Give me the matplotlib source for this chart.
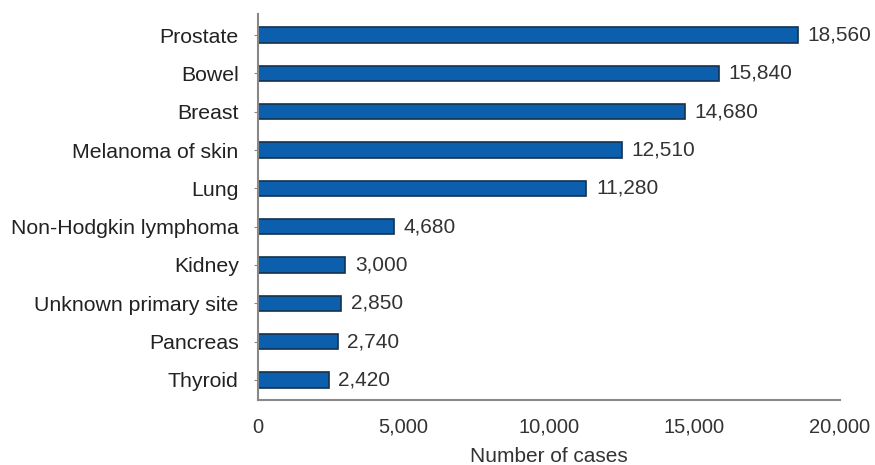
import matplotlib.pyplot as plt

sites = ['Prostate', 'Bowel', 'Breast', 'Melanoma of skin', 'Lung',
         'Non-Hodgkin lymphoma', 'Kidney', 'Unknown primary site',
         'Pancreas', 'Thyroid']
cases = [18560, 15840, 14680, 12510, 11280, 4680, 3000, 2850, 2740, 2420]
xticks = [0, 5000, 10000, 15000, 20000]

plt.rcParams['font.family'] = ['Liberation Sans', 'DejaVu Sans']

fig = plt.figure(figsize=(8.75, 4.65), dpi=100)
ax = fig.add_axes([0.295, 0.14, 0.665, 0.83])

pos = list(range(len(sites)))
ax.barh(pos, cases, height=0.4, color='#0b5fad', edgecolor='#15314f', linewidth=1.2)

# value labels at the end of each bar
for p, v in zip(pos, cases):
    ax.text(v + 330, p, f'{v:,}', va='center', ha='left', fontsize=15, color='#333333')

ax.set_yticks(pos)
ax.set_yticklabels(sites, fontsize=15.3, color='#222222')
ax.set_ylim(9.52, -0.55)
ax.set_xlim(0, 20000)
ax.set_xticks(xticks)
ax.set_xticklabels([f'{t:,}' for t in xticks], fontsize=14.5, color='#333333')
ax.tick_params(axis='x', length=0, pad=13)
ax.tick_params(axis='y', length=3, color='#888888', pad=11)
ax.set_xlabel('Number of cases', fontsize=15, color='#333333', labelpad=7)

for s in ['top', 'right']:
    ax.spines[s].set_visible(False)
for s in ['left', 'bottom']:
    ax.spines[s].set_color('#888888')
    ax.spines[s].set_linewidth(1.5)

fig.savefig('out.png', dpi=100)
